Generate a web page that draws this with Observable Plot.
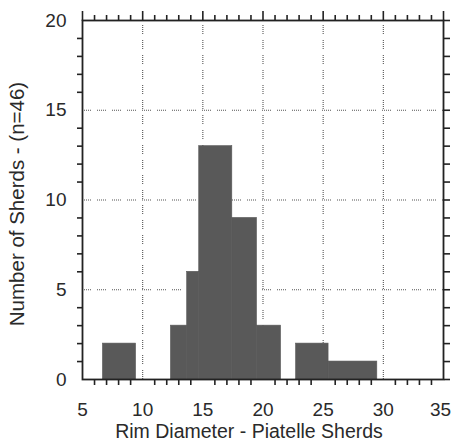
<!DOCTYPE html>
<html>
<head>
<meta charset="utf-8">
<script src="https://cdn.jsdelivr.net/npm/d3@7"></script>
<script src="https://cdn.jsdelivr.net/npm/@observablehq/plot@0.6"></script>
<style>
  html, body { margin: 0; padding: 0; background: #fff; }
  svg { display: block; }
</style>
</head>
<body>
<div id="chart"></div>
<script>
// Histogram bins (rim diameter, cm) and counts
const binStart = [6.7, 12.35, 13.7, 14.7, 17.45, 19.5, 22.75, 25.45];
const binEnd   = [9.45, 13.7, 14.7, 17.45, 19.5, 21.5, 25.45, 29.5];
const counts   = [2, 3, 6, 13, 9, 3, 2, 1];

const xTickLabels = [5, 10, 15, 20, 25, 30, 35];
const yTickLabels = [0, 5, 10, 15, 20];
const xGrid = [10, 15, 20, 25, 30];
const yGrid = [5, 10, 15];
const xMinor = d3.range(5, 36).filter(d => d % 5 !== 0);
const yMinor = d3.range(0, 21).filter(d => d % 5 !== 0);
const yAll = d3.range(0, 21);

const xTitle = "Rim Diameter - Piatelle Sherds";
const yTitle = "Number of Sherds - (n=46)";

const bins = binStart.map((s, i) => ({x1: s, x2: binEnd[i], y: counts[i]}));

const font = "'Liberation Sans', Arial, Helvetica, sans-serif";
const dash = "1 1 1 1 1 1 1 1 1 6";
const ink = "#222";
const textInk = "#2a2a2a";

const xInner = xTickLabels.slice(0, -1);
const xLast = xTickLabels.slice(-1);

const chart = Plot.plot({
  width: 451,
  height: 448,
  marginTop: 20,
  marginRight: 8,
  marginBottom: 69,
  marginLeft: 82,
  style: {fontFamily: font, background: "#fff", overflow: "visible"},
  x: {domain: [5, 35]},
  y: {domain: [0, 20]},
  marks: [
    // dotted grid
    Plot.ruleX(xGrid, {x: d => d, y1: 0, y2: 20, stroke: "#555", strokeWidth: 1.1, strokeDasharray: dash}),
    Plot.ruleY(yGrid, {y: d => d, x1: 5, x2: 35, stroke: "#555", strokeWidth: 1.1, strokeDasharray: dash}),
    // bars
    Plot.rectY(bins, {x1: "x1", x2: "x2", y: "y", fill: "#595959", stroke: "#595959", strokeWidth: 0.6, inset: 0}),
    // frame
    Plot.frame({stroke: ink, strokeWidth: 1.8}),
    // ticks
    Plot.axisX({anchor: "bottom", ticks: xMinor, tickSize: 6, tickFormat: () => "", label: null, stroke: ink, strokeWidth: 1.6}),
    Plot.axisX({anchor: "top", ticks: xMinor, tickSize: 6, tickFormat: () => "", label: null, stroke: ink, strokeWidth: 1.6}),
    Plot.axisX({anchor: "top", ticks: xTickLabels, tickSize: 10, tickFormat: () => "", label: null, stroke: ink, strokeWidth: 1.6}),
    Plot.axisY({anchor: "left", ticks: yMinor, tickSize: 5, tickFormat: () => "", label: null, stroke: ink, strokeWidth: 1.6}),
    Plot.axisY({anchor: "right", ticks: yAll, tickSize: 6, tickFormat: () => "", label: null, stroke: ink, strokeWidth: 1.6}),
    // tick labels
    Plot.text(xInner, {x: d => d, frameAnchor: "bottom", dy: 30, text: d => String(d), fontSize: 19, fill: textInk, textAnchor: "middle", lineAnchor: "middle"}),
    Plot.text(xLast, {x: d => d, frameAnchor: "bottom", dy: 30, dx: -3, text: d => String(d), fontSize: 19, fill: textInk, textAnchor: "middle", lineAnchor: "middle"}),
    Plot.text(yTickLabels, {y: d => d, frameAnchor: "left", dx: -16, text: d => String(d), fontSize: 19, fill: textInk, textAnchor: "end", lineAnchor: "middle"}),
    // titles
    Plot.text([xTitle], {frameAnchor: "bottom", dy: 52, dx: -14, text: d => d, fontSize: 19.5, fill: textInk, textAnchor: "middle", lineAnchor: "middle"}),
    Plot.text([yTitle], {frameAnchor: "left", dx: -65, dy: 4, rotate: -90, text: d => d, fontSize: 20.5, fill: textInk, textAnchor: "middle", lineAnchor: "middle"})
  ]
});
document.getElementById("chart").appendChild(chart);
</script>
</body>
</html>
